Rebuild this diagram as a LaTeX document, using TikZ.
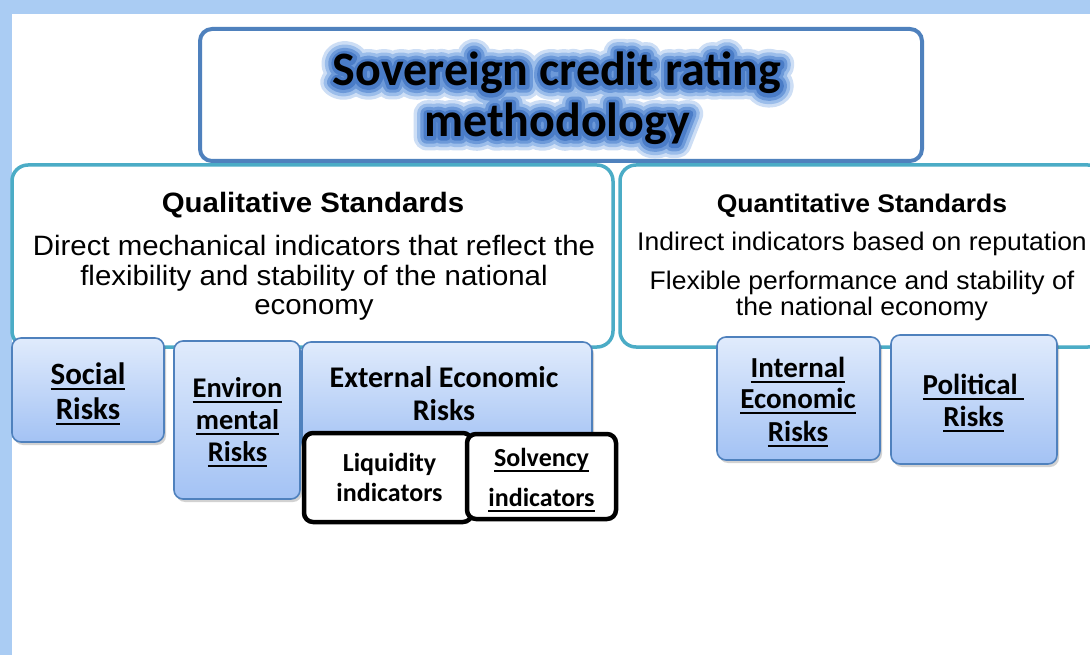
\documentclass[tikz,border=0pt]{standalone}
\usepackage{fontspec}
\usetikzlibrary{calc,shadows}
\newfontfamily\arialf{Liberation Sans}[FakeStretch=1.05]
\newfontfamily\arialg{Liberation Sans}[FakeStretch=1.04]
\newfontfamily\calibf{Carlito}
\newfontfamily\glowfa{Carlito}[FakeBold=56]
\newfontfamily\glowfb{Carlito}[FakeBold=42]
\newfontfamily\glowfc{Carlito}[FakeBold=28]
\newfontfamily\glowfd{Carlito}[FakeBold=15]
\newcommand{\ulx}[1]{\leavevmode\setbox0=\hbox{#1}\rlap{\rule[-5.5pt]{\wd0}{1.8pt}}\box0}
\definecolor{bandblue}{RGB}{170,204,243}
\definecolor{titleblue}{RGB}{79,129,189}
\definecolor{tealline}{RGB}{75,172,198}
\definecolor{risktop}{RGB}{224,235,252}
\definecolor{riskbot}{RGB}{163,194,244}
\definecolor{glowA}{RGB}{205,222,245}
\definecolor{glowB}{RGB}{155,189,234}
\definecolor{glowC}{RGB}{108,153,217}
\definecolor{glowD}{RGB}{74,124,199}
\begin{document}
\begin{tikzpicture}[x=1pt,y=-1pt,
  titlebox/.style={draw=titleblue, line width=4pt, rounded corners=12pt, fill=white, inner sep=0pt},
  stdbox/.style={draw=tealline, line width=3.5pt, rounded corners=16pt, fill=white, inner sep=0pt},
  riskbox/.style={draw=titleblue, line width=1.6pt, rounded corners=9pt, top color=risktop, bottom color=riskbot,
     drop shadow={shadow xshift=2pt, shadow yshift=-3pt, opacity=0.25, fill=black!70}, inner sep=0pt},
  indbox/.style={draw=black, line width=4.5pt, rounded corners=9pt, fill=white, inner sep=0pt},
  titletxt/.style={anchor=base, inner sep=0pt, font=\calibf\bfseries\fontsize{48}{52}\selectfont},
  glowtxt/.style={anchor=base, inner sep=0pt, line join=round, line cap=round, text=#1},
  qhead/.style={anchor=base, inner sep=0pt, font=\arialf\bfseries\fontsize{28}{30}\selectfont},
  qbody/.style={anchor=base, inner sep=0pt, font=\arialf\fontsize{28}{30}\selectfont},
  nhead/.style={anchor=base, inner sep=0pt, font=\arialg\bfseries\fontsize{25.5}{28}\selectfont},
  nbody/.style={anchor=base, inner sep=0pt, font=\arialg\fontsize{25.5}{28}\selectfont},
  rtxt/.style={anchor=base, inner sep=0pt, font=\calibf\bfseries\fontsize{#1}{#1}\selectfont},
]
\useasboundingbox (0,0) rectangle (1090,655);
\clip (0,0) rectangle (1090,655);
\fill[white] (0,0) rectangle (1090,655);
\fill[bandblue] (0,0) rectangle (1090,14);
\fill[bandblue] (0,0) rectangle (12,655);

% standards boxes
\node[stdbox, minimum width=601pt, minimum height=182pt] (qual) at (312.5,256) {};
\node[stdbox, minimum width=484pt, minimum height=182pt] (quant) at (862,256) {};

% title box and glowing title
\node[titlebox, minimum width=722pt, minimum height=132pt] (title) at (561,95) {};
\node[glowtxt=glowA, font=\glowfa\bfseries\fontsize{48}{52}\selectfont] (ga1) at (557,86) {Sovereign credit rating};
\node[glowtxt=glowA, font=\glowfa\bfseries\fontsize{48}{52}\selectfont] (ga2) at (557,137) {methodology};
\node[glowtxt=glowB, font=\glowfb\bfseries\fontsize{48}{52}\selectfont] (gb1) at (557,86) {Sovereign credit rating};
\node[glowtxt=glowB, font=\glowfb\bfseries\fontsize{48}{52}\selectfont] (gb2) at (557,137) {methodology};
\node[glowtxt=glowC, font=\glowfc\bfseries\fontsize{48}{52}\selectfont] (gc1) at (557,86) {Sovereign credit rating};
\node[glowtxt=glowC, font=\glowfc\bfseries\fontsize{48}{52}\selectfont] (gc2) at (557,137) {methodology};
\node[glowtxt=glowD, font=\glowfd\bfseries\fontsize{48}{52}\selectfont] (gd1) at (557,86) {Sovereign credit rating};
\node[glowtxt=glowD, font=\glowfd\bfseries\fontsize{48}{52}\selectfont] (gd2) at (557,137) {methodology};
\node[titletxt] (t1) at (557,86) {Sovereign credit rating};
\node[titletxt] (t2) at (557,137) {methodology};

% qualitative text
\node[qhead] (qualh) at (313,213) {Qualitative Standards};
\node[qbody] (qual1) at (314,255) {Direct mechanical indicators that reflect the};
\node[qbody] (qual2) at (314,285) {flexibility and stability of the national};
\node[qbody] (qual3) at (314,314) {economy};

% quantitative text
\node[nhead] (quanth) at (862,213) {Quantitative Standards};
\node[nbody] (quant1) at (862,251) {Indirect indicators based on reputation};
\node[nbody] (quant2) at (862,289) {Flexible performance and stability of};
\node[nbody] (quant3) at (862,316) {the national economy};

% risk boxes (left)
\node[riskbox, minimum width=152pt, minimum height=104pt] (social) at (88,390) {};
\node[rtxt=31] (social1) at (88,384) {\ulx{Social}};
\node[rtxt=31] (social2) at (88,419) {\ulx{Risks}};

\node[riskbox, minimum width=126pt, minimum height=158pt] (env) at (237,420) {};
\node[rtxt=28.5] (env1) at (237.5,397) {\ulx{Environ}};
\node[rtxt=28.5] (env2) at (237.5,429) {\ulx{mental}};
\node[rtxt=28.5] (env3) at (237.5,461) {\ulx{Risks}};

\node[riskbox, minimum width=290pt, minimum height=110pt] (ext) at (447,397) {};
\node[rtxt=30] (ext1) at (444,387) {External Economic};
\node[rtxt=30] (ext2) at (444,420) {Risks};

\node[indbox, minimum width=168pt, minimum height=89pt] (liq) at (388,477.5) {};
\node[rtxt=26] (liq1) at (389.5,471) {Liquidity};
\node[rtxt=26] (liq2) at (389.5,501) {indicators};

\node[indbox, minimum width=149pt, minimum height=85pt] (solv) at (541.5,476.5) {};
\node[rtxt=26] (solv1) at (541.5,466) {\ulx{Solvency}};
\node[rtxt=26] (solv2) at (541.5,506) {\ulx{indicators}};

% risk boxes (right)
\node[riskbox, minimum width=163pt, minimum height=123pt] (intl) at (798.5,398.5) {};
\node[rtxt=29] (intl1) at (798,377) {\ulx{Internal}};
\node[rtxt=29] (intl2) at (798,408) {\ulx{Economic}};
\node[rtxt=29] (intl3) at (798,441) {\ulx{Risks}};

\node[riskbox, minimum width=166pt, minimum height=129pt] (pol) at (974,399.5) {};
\node[rtxt=29] (pol1) at (973.5,394) {\ulx{Political\ }};
\node[rtxt=29] (pol2) at (973.5,426) {\ulx{Risks}};
\end{tikzpicture}
\end{document}
